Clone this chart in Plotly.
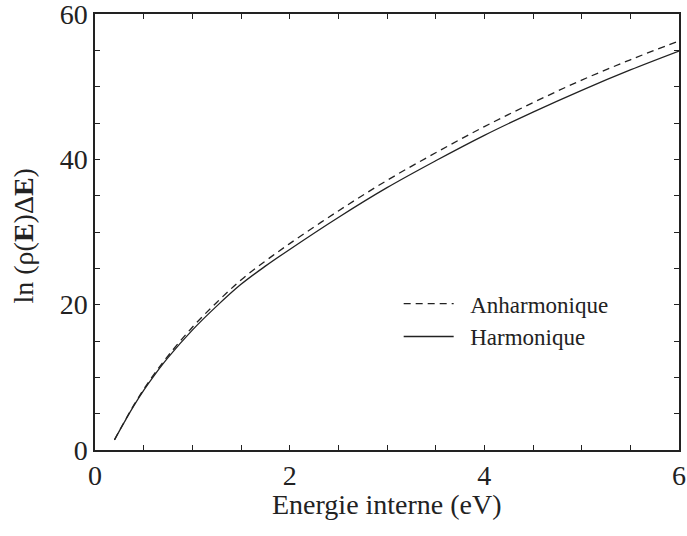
import plotly.graph_objects as go

# Internal energy (eV)
energie = [0.2, 0.3, 0.4, 0.5, 0.6, 0.75, 1.0, 1.25, 1.5, 1.75, 2.0, 2.5, 3.0, 3.5, 4.0, 4.5, 5.0, 5.5, 6.0]
# ln(rho(E) dE) for both models
harmonique = [1.4, 3.8, 6.1, 8.2, 10.1, 12.7, 16.5, 19.8, 22.8, 25.3, 27.6, 32.0, 36.1, 39.8, 43.3, 46.5, 49.5, 52.3, 54.9]
anharmonique = [1.4, 3.85, 6.2, 8.35, 10.3, 12.95, 16.9, 20.3, 23.4, 26.0, 28.4, 32.9, 37.1, 40.9, 44.5, 47.8, 50.9, 53.7, 56.3]

x_ticks = [i * 0.5 for i in range(13)]
x_labels = [str(int(v)) if v in (0, 2, 4, 6) else "" for v in x_ticks]
y_ticks = list(range(0, 61, 5))
y_labels = [str(v) if v % 20 == 0 else "" for v in y_ticks]

serif = "Liberation Serif, Times New Roman, serif"
ink = "#222222"
nbsp = "\u00a0"

fig = go.Figure()
fig.add_trace(go.Scatter(
    x=energie, y=anharmonique, mode="lines", name=nbsp * 2 + "Anharmonique",
    line=dict(color=ink, width=1.3, dash="7px,5px", shape="spline", smoothing=1.0),
))
fig.add_trace(go.Scatter(
    x=energie, y=harmonique, mode="lines", name=nbsp * 2 + "Harmonique",
    line=dict(color=ink, width=1.3, shape="spline", smoothing=1.0),
))

axis_common = dict(
    showgrid=False, zeroline=False, showline=True, linecolor=ink, linewidth=1.5,
    mirror="allticks", ticks="inside", ticklen=5, tickwidth=1, tickcolor=ink,
    tickfont=dict(family=serif, size=28, color=ink), ticklabeloverflow="allow",
    automargin=False,
)

fig.update_layout(
    width=687, height=536,
    margin=dict(l=95, r=8, t=14, b=86),
    paper_bgcolor="white", plot_bgcolor="white",
    font=dict(family=serif, color=ink),
    showlegend=True,
    legend=dict(
        x=0.52, y=0.385, xanchor="left", yanchor="top",
        bgcolor="rgba(0,0,0,0)", itemwidth=50,
        font=dict(family=serif, size=23, color=ink),
        tracegroupgap=0,
    ),
    xaxis=dict(range=[0, 6], tickmode="array", tickvals=x_ticks, ticktext=x_labels, **axis_common),
    yaxis=dict(range=[0, 60], tickmode="array", tickvals=y_ticks, ticktext=y_labels, **axis_common),
    annotations=[
        dict(text="Energie interne (eV)", xref="paper", yref="paper", x=0.5, y=-0.124,
             xanchor="center", yanchor="middle", showarrow=False,
             font=dict(family=serif, size=28, color=ink)),
        dict(text="ln (ρ(<b>E</b>)Δ<b>E</b>)", xref="paper", yref="paper", x=-0.123, y=0.49,
             xanchor="center", yanchor="middle", textangle=-90, showarrow=False,
             font=dict(family=serif, size=28, color=ink)),
    ],
)

fig.write_html("out.html")
